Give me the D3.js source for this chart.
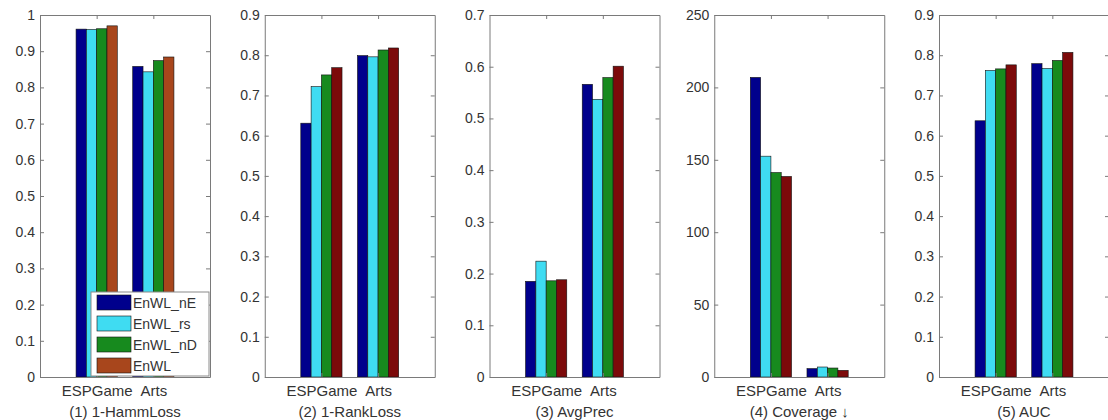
<!DOCTYPE html>
<html>
<head>
<meta charset="utf-8">
<script src="https://cdn.jsdelivr.net/npm/d3@7/dist/d3.min.js"></script>
<style>
  html, body { margin: 0; padding: 0; background: #fff; }
  svg { display: block; font-family: "Liberation Sans", Arial, sans-serif; }
</style>
</head>
<body>
<svg id="chart" width="1108" height="420"></svg>
<script>
// ---- data ----
const categories = ["ESPGame", "Arts"];
const seriesNames = ["EnWL_nE", "EnWL_rs", "EnWL_nD", "EnWL"];
const panelTitles = ["(1) 1-HammLoss", "(2) 1-RankLoss", "(3) AvgPrec", "(4) Coverage \u2193", "(5) AUC"];

// values[panel][category][series]
const hammLoss = [[0.961, 0.960, 0.962, 0.970], [0.858, 0.843, 0.874, 0.884]];
const rankLoss = [[0.631, 0.722, 0.751, 0.769], [0.799, 0.796, 0.813, 0.818]];
const avgPrec  = [[0.185, 0.224, 0.186, 0.188], [0.566, 0.537, 0.579, 0.601]];
const coverage = [[206.9, 152.5, 141.2, 138.5], [5.8, 6.9, 6.2, 4.6]];
const auc      = [[0.637, 0.762, 0.766, 0.776], [0.779, 0.767, 0.787, 0.807]];

const ticks1 = [0, 0.1, 0.2, 0.3, 0.4, 0.5, 0.6, 0.7, 0.8, 0.9, 1];
const ticks2 = [0, 0.1, 0.2, 0.3, 0.4, 0.5, 0.6, 0.7, 0.8, 0.9];
const ticks3 = [0, 0.1, 0.2, 0.3, 0.4, 0.5, 0.6, 0.7];
const ticks4 = [0, 50, 100, 150, 200, 250];
const ticks5 = [0, 0.1, 0.2, 0.3, 0.4, 0.5, 0.6, 0.7, 0.8, 0.9];

const panelValues = [hammLoss, rankLoss, avgPrec, coverage, auc];
const panelTicks = [ticks1, ticks2, ticks3, ticks4, ticks5];

// ---- styles ----
const colorsPanel1 = ["#00008c", "#3fdcf2", "#178a1e", "#a8461c"];
const colorsOther  = ["#00008c", "#3fdcf2", "#178a1e", "#7c0a0a"];
const axisColor = "#7a7a7a";
const textColor = "#333";

const svg = d3.select("#chart");
const plotTop = 15, plotBottom = 377, pw = 170;
const lefts = [40, 264.75, 489.5, 714.25, 939];

panelValues.forEach((vals, p) => {
  const ticks = panelTicks[p];
  const colors = p === 0 ? colorsPanel1 : colorsOther;
  const g = svg.append("g").attr("transform", `translate(${lefts[p]},${plotTop})`);
  const h = plotBottom - plotTop;

  const x = d3.scaleLinear().domain([0, 3]).range([0, pw]);
  const y = d3.scaleLinear().domain([0, d3.max(ticks)]).range([h, 0]);

  const nS = seriesNames.length;
  const groupW = Math.min(0.8, nS / (nS + 1.5));
  const barW = groupW / nS;

  // bars
  vals.forEach((catVals, c) => {
    catVals.forEach((v, s) => {
      const x0 = (c + 1) - groupW / 2 + s * barW;
      g.append("rect")
        .attr("x", x(x0))
        .attr("width", x(x0 + barW) - x(x0))
        .attr("y", y(v))
        .attr("height", y(0) - y(v))
        .attr("fill", colors[s])
        .attr("stroke", "#111")
        .attr("stroke-width", 0.6);
    });
  });

  const fmt = d => String(+d.toFixed(2));
  const styleAxis = sel => {
    sel.selectAll("path.domain").attr("stroke", axisColor);
    sel.selectAll(".tick line").attr("stroke", axisColor);
    sel.selectAll(".tick text").attr("fill", textColor);
  };

  g.append("g")
    .call(d3.axisLeft(y).tickValues(ticks).tickFormat(fmt).tickSizeInner(-4).tickSizeOuter(0).tickPadding(5))
    .call(styleAxis)
    .selectAll("text").style("font-size", "14px");

  g.append("g").attr("transform", `translate(${pw},0)`)
    .call(d3.axisRight(y).tickValues(ticks).tickFormat("").tickSizeInner(-4).tickSizeOuter(0))
    .call(styleAxis);

  g.append("g")
    .call(d3.axisTop(x).tickValues([1, 2]).tickFormat("").tickSizeInner(-4).tickSizeOuter(0))
    .call(styleAxis);

  g.append("g").attr("transform", `translate(0,${h})`)
    .call(d3.axisBottom(x).tickValues([1, 2]).tickFormat((d, i) => categories[i]).tickSizeInner(-4).tickSizeOuter(0).tickPadding(8))
    .call(styleAxis)
    .selectAll("text").style("font-size", "15px");

  // title under axis
  g.append("text")
    .attr("x", x(1.5))
    .attr("y", h + 40)
    .attr("text-anchor", "middle")
    .attr("fill", textColor)
    .style("font-size", "15px")
    .text(panelTitles[p]);

  // legend in first panel
  if (p === 0) {
    const lx = 51, ly = 277, lw = pw - lx - 1, lh = h - ly - 1;
    const lg = g.append("g").attr("transform", `translate(${lx},${ly})`);
    lg.append("rect").attr("width", lw).attr("height", lh)
      .attr("fill", "#fff").attr("stroke", "#8a8a8a").attr("stroke-width", 1);
    const rowH = lh / nS;
    seriesNames.forEach((name, s) => {
      const cy = rowH * (s + 0.5);
      lg.append("rect").attr("x", 6).attr("y", cy - 7.5)
        .attr("width", 34).attr("height", 15)
        .attr("fill", colors[s]).attr("stroke", "#111").attr("stroke-width", 0.6);
      lg.append("text").attr("x", 42).attr("y", cy + 5)
        .attr("fill", textColor).style("font-size", "14px").text(name);
    });
  }
});
</script>
</body>
</html>
